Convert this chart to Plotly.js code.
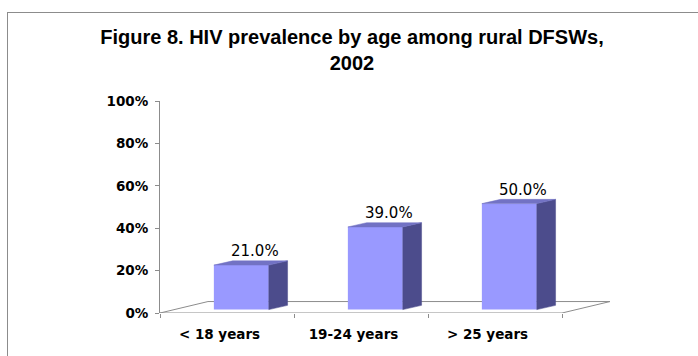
<!DOCTYPE html>
<html>
<head>
<meta charset="utf-8">
<script src="https://cdn.plot.ly/plotly-3.0.1.min.js"></script>
<style>
  html, body { margin: 0; padding: 0; background: #fff; overflow: hidden; }
  #wrap { position: relative; width: 698px; height: 356px; }
  #chart { position: absolute; left: 0; top: 0; width: 698px; height: 356px; }
  #frame { position: absolute; left: 7px; top: 12px; width: 720px; height: 400px;
           border-left: 1px solid #8c8c8c; border-top: 1px solid #8c8c8c;
           pointer-events: none; }
</style>
</head>
<body>
<div id="wrap">
  <div id="chart"></div>
  <div id="frame"></div>
</div>
<script>
// HIV prevalence among rural DFSWs by age group, 2002
const categories = ['< 18 years', '19-24 years', '> 25 years'];
const prevalence = [21.0, 39.0, 50.0];
const yTickValues = [0, 20, 40, 60, 80, 100];

// plot geometry (pixels)
const W = 698, H = 356;
const marginL = 160, marginR = 76, marginT = 101, marginB = 43;
const pxPerCategory = 134;
const xRange = [-0.5, -0.5 + (W - marginL - marginR) / pxPerCategory];

// pseudo-3D depth offsets, in data units
const floorDX = 0.358, floorDY = 5.4;   // depth of the floor
const barShiftX = 0.107, barShiftY = 1.6; // bars stand part-way into the floor
const barDX = 0.14, barDY = 2.0;        // depth of each bar
const barWidth = 0.41;
const labelShift = -0.056;              // category label offset

const frontColor = '#9999ff';
const sideColor = '#4c4c8c';
const topColor = '#7272c4';
const edgeColor = '#8c8c8c';

const traces = [];

// floor outline (parallelogram), kept beneath the bars
const x0 = -0.5, x1 = categories.length - 0.5;
const floorPts = [[x0, 0], [x1, 0], [x1 + floorDX, floorDY], [x0 + floorDX, floorDY]];
const floorShape = {
  type: 'path', xref: 'x', yref: 'y', layer: 'below',
  path: 'M' + floorPts.map(p => p[0] + ',' + p[1]).join(' L') + ' Z',
  line: { color: edgeColor, width: 1 }, fillcolor: 'rgba(0,0,0,0)'
};

// side and top faces of each bar
prevalence.forEach((v, i) => {
  const xr = i + barShiftX + barWidth / 2;
  const xl = i + barShiftX - barWidth / 2;
  const base = barShiftY;
  const top = barShiftY + v;
  traces.push({
    type: 'scatter', mode: 'lines', fill: 'toself', hoverinfo: 'skip',
    x: [xr, xr, xr + barDX, xr + barDX, xr],
    y: [base, top, top + barDY, base + barDY, base],
    fillcolor: sideColor, line: { color: sideColor, width: 0.5 }
  });
  traces.push({
    type: 'scatter', mode: 'lines', fill: 'toself', hoverinfo: 'skip',
    x: [xl, xr, xr + barDX, xl + barDX, xl],
    y: [top, top, top + barDY, top + barDY, top],
    fillcolor: topColor, line: { color: topColor, width: 0.5 }
  });
});

// front faces of the bars
traces.push({
  type: 'bar',
  x: prevalence.map((v, i) => i + barShiftX),
  y: prevalence,
  base: barShiftY,
  width: barWidth,
  marker: { color: frontColor, line: { width: 0 } },
  hoverinfo: 'skip'
});

// value labels above each bar
const annotations = prevalence.map((v, i) => ({
  x: i + barShiftX + 0.105,
  y: v + barShiftY,
  xref: 'x', yref: 'y',
  text: v.toFixed(1) + '%',
  showarrow: false,
  xanchor: 'center', yanchor: 'bottom',
  yshift: 3,
  font: { family: 'DejaVu Sans', size: 15, color: '#000' }
}));

const layout = {
  width: W, height: H,
  margin: { l: marginL, r: marginR, t: marginT, b: marginB, pad: 0 },
  paper_bgcolor: '#fff', plot_bgcolor: 'rgba(0,0,0,0)',
  showlegend: false,
  title: {
    text: 'Figure 8. HIV prevalence by age among rural DFSWs,<br>2002',
    font: { family: 'Arial, Liberation Sans', size: 20, weight: 'bold', color: '#000' },
    xref: 'container', x: 352 / W, xanchor: 'center',
    yref: 'container', y: 1 - 44 / H, yanchor: 'top'
  },
  xaxis: {
    range: xRange,
    showgrid: false, zeroline: false, showline: false,
    tickmode: 'array',
    tickvals: categories.map((c, i) => i + labelShift),
    ticktext: categories,
    ticks: '',
    ticklabelstandoff: 11,
    tickfont: { family: 'DejaVu Sans', size: 13.5, weight: 'bold', color: '#000' },
    minor: {
      tickmode: 'array',
      tickvals: categories.map((c, i) => i - 0.5).concat([categories.length - 0.5]),
      ticks: 'outside', ticklen: 4, tickcolor: edgeColor, tickwidth: 1, showgrid: false
    }
  },
  yaxis: {
    range: [0, 100],
    showgrid: false, zeroline: false,
    showline: true, linecolor: edgeColor, linewidth: 1,
    tickmode: 'array',
    tickvals: yTickValues,
    ticktext: yTickValues.map(t => t + '%'),
    ticks: 'outside', ticklen: 4, tickcolor: edgeColor,
    ticklabelstandoff: 4,
    tickfont: { family: 'DejaVu Sans', size: 13.5, weight: 'bold', color: '#000' }
  },
  shapes: [floorShape],
  annotations: annotations
};

Plotly.newPlot('chart', traces, layout, { displayModeBar: false, staticPlot: true });
</script>
</body>
</html>
